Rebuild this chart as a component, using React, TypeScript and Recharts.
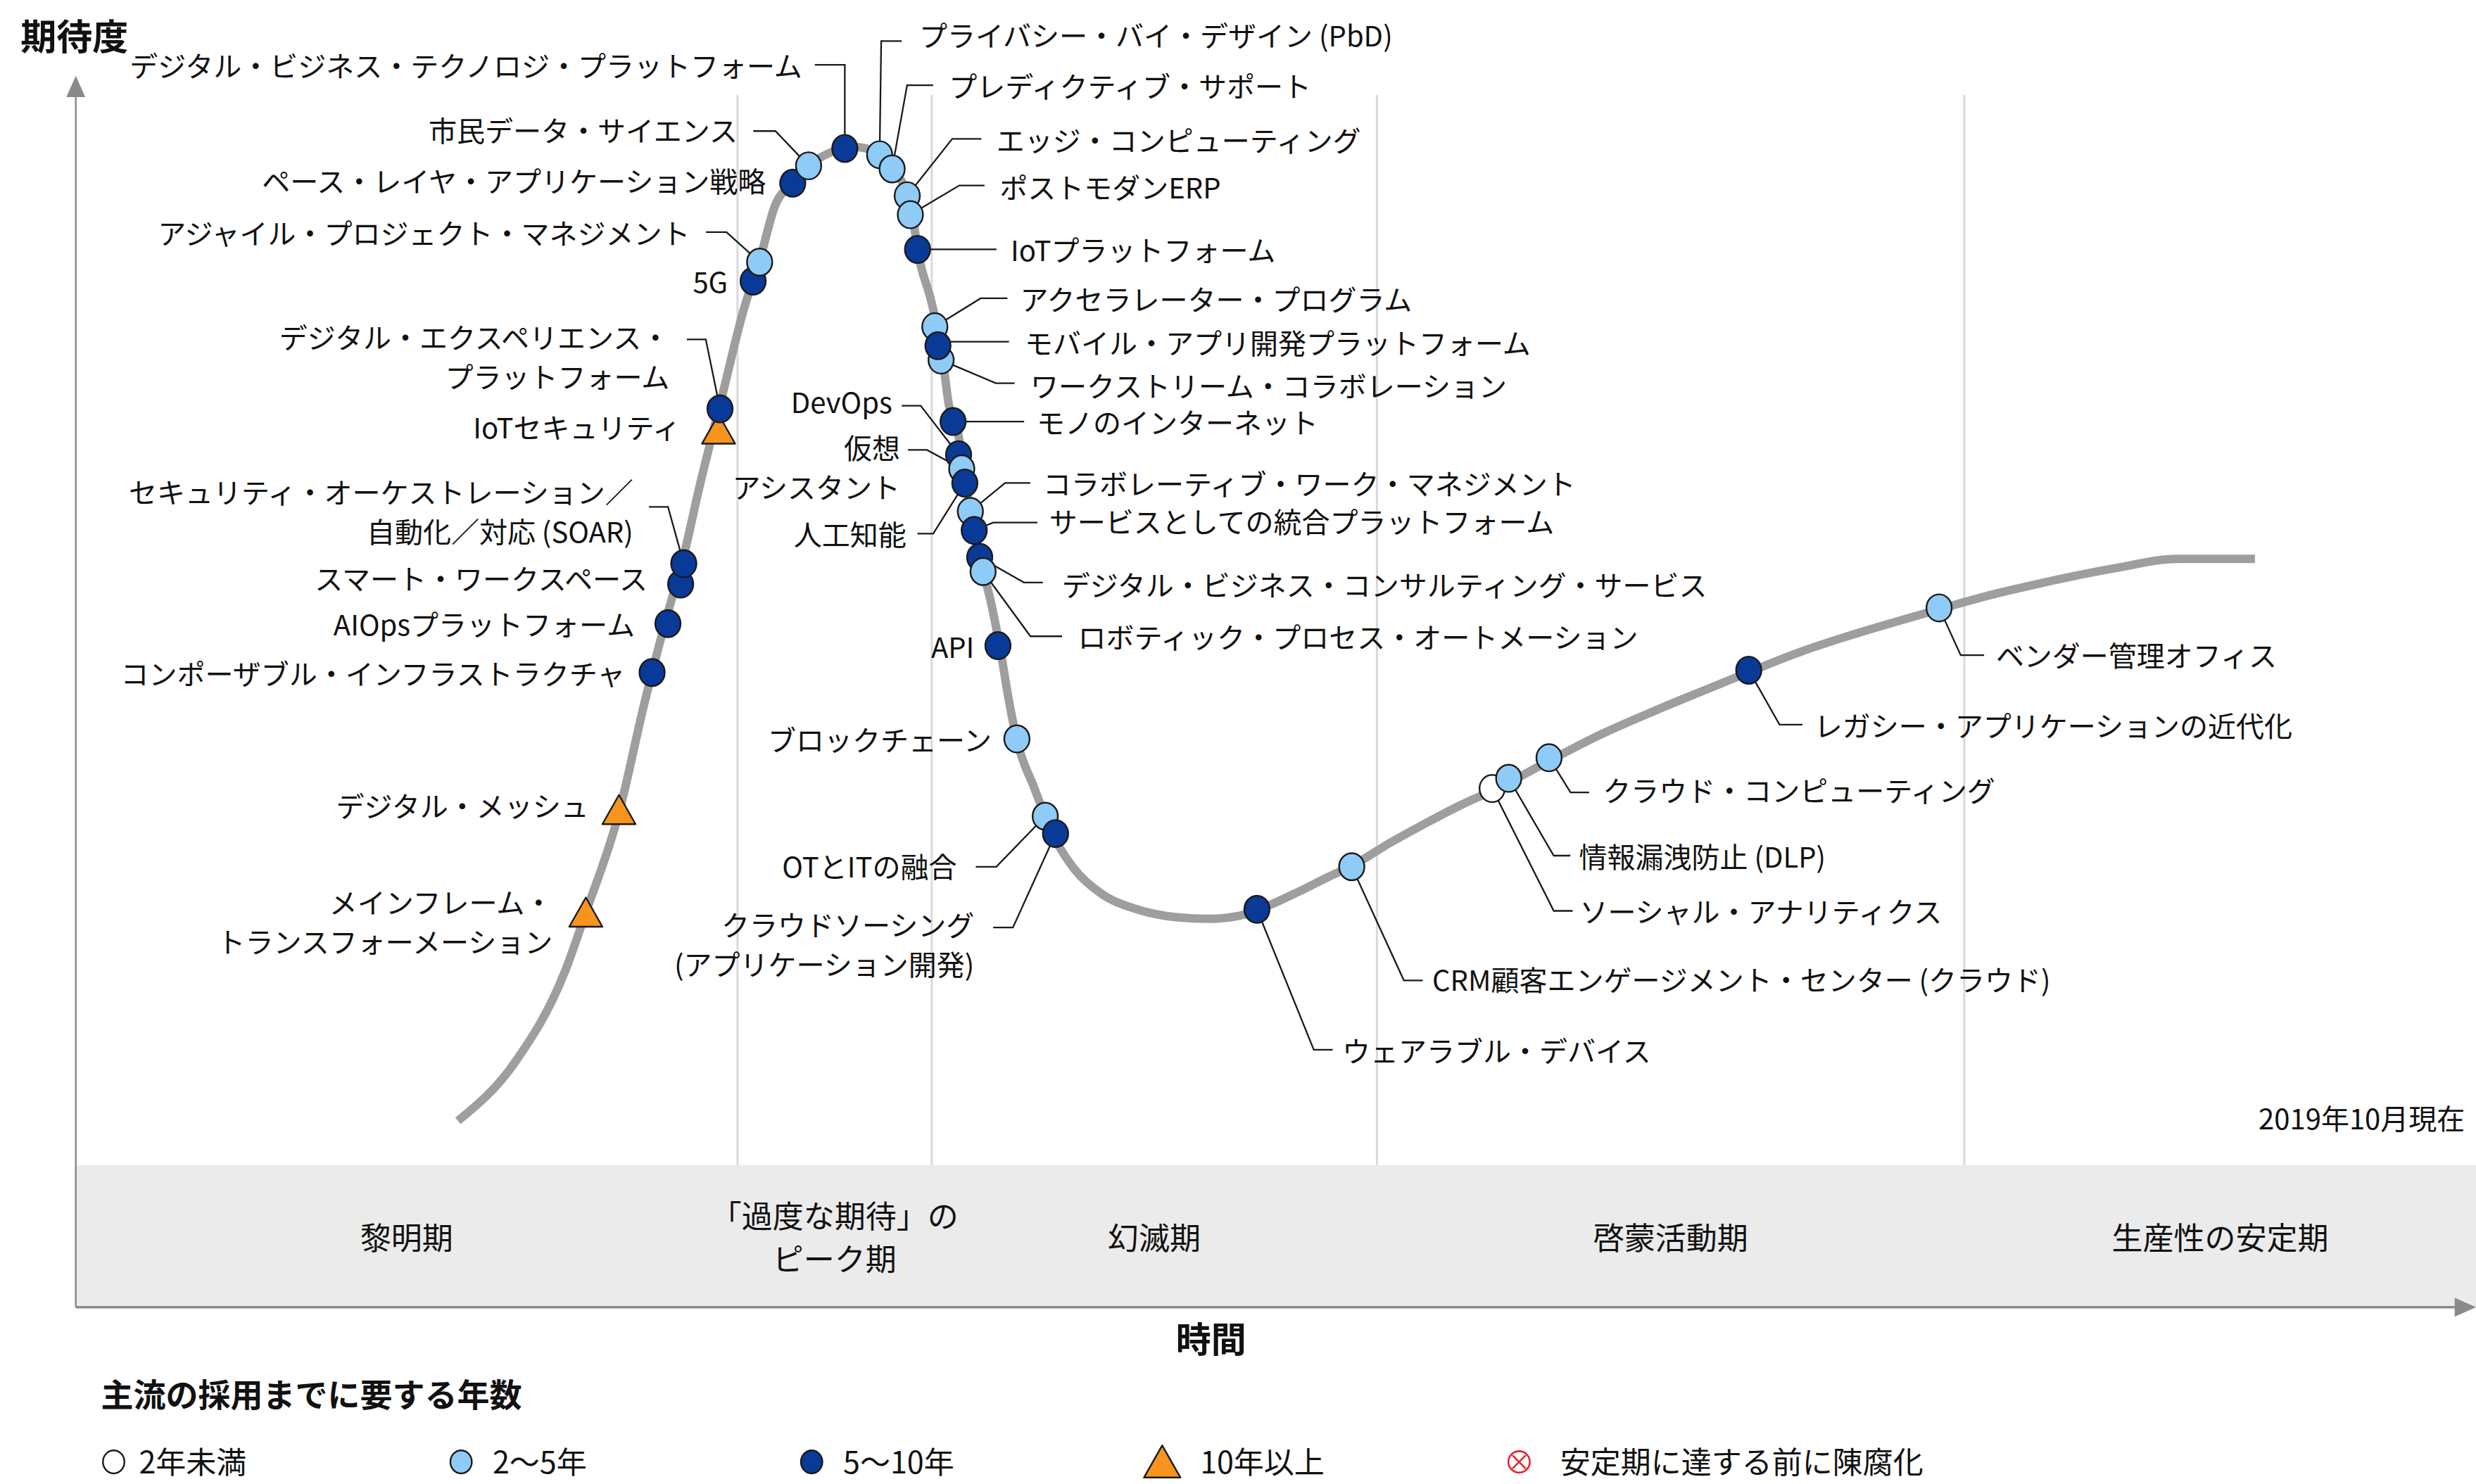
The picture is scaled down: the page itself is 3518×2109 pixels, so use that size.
import React from 'react';
import { ComposedChart, Line, Scatter, XAxis, YAxis, ReferenceArea, ReferenceLine } from 'recharts';

const W = 3518;
const H = 2109;
// the reference was laid out at 1568px wide, layout offsets below use that unit
const K = W / 1568;
const FONT = '"Noto Sans CJK JP", "Noto Sans", sans-serif';

// hype curve: time (0-100) against expectation (0-100)
const curveTime = [
  15.92, 18.29, 20.39, 21.25, 22.63, 23.68, 24.54, 25.33, 25.99, 26.91, 27.83, 28.49, 29.14,
  29.87, 30.53, 31.38, 32.37, 33.49, 34.01, 34.61, 34.87, 35.07, 35.66, 35.92, 36.12, 36.38,
  36.78, 36.97, 37.17, 37.43, 37.63, 38.09, 38.49, 38.88, 39.21, 39.93, 40.39, 40.86, 41.58,
  42.63, 44.21, 45.86, 47.24, 48.49, 49.47, 50.92, 52.11, 53.22, 54.74, 56.05, 57.7, 59.28,
  61.38, 63.29, 65.66, 67.89, 69.67, 71.84, 73.82, 75.79, 77.63, 79.74, 81.71, 84.93, 87.57, 90.79,
];
const curveExpectation = [
  15.13, 19.87, 27.31, 32.05, 40.13, 48.97, 55.51, 61.03, 66.67, 73.85, 81.03, 85.0, 89.49,
  91.28, 92.69, 93.72, 94.23, 93.72, 92.44, 90.51, 88.59, 85.9, 81.54, 79.23, 76.92, 73.21,
  70.77, 68.21, 65.77, 63.08, 61.03, 57.56, 53.72, 49.23, 46.03, 42.18, 39.87, 37.82, 35.64,
  33.72, 32.31, 31.67, 31.54, 31.79, 32.44, 33.72, 34.87, 35.9, 37.69, 39.1, 40.77, 42.18,
  44.36, 46.28, 48.33, 50.13, 51.54, 53.21, 54.49, 55.64, 56.67, 57.82, 58.72, 60.0, 60.77, 60.77,
];

// phases along the time axis
const phaseNames = [['黎明期'], ['「過度な期待」の', 'ピーク期'], ['幻滅期'], ['啓蒙活動期'], ['生産性の安定期']];
const phaseBounds = [0, 27.57, 35.66, 54.21, 78.68, 100];
const BAND_TOP = 11.54;
const DIVIDER_TOP = 98.46;

// years to mainstream adoption
const yearClasses = ['lt2', '2to5', '5to10', 'gt10', 'obsolete'];
const yearLabels = ['2年未満', '2～5年', '5～10年', '10年以上', '安定期に達する前に陳腐化'];

const techs = [
  // innovation trigger, drawn bottom-up
  { name: 'メインフレーム・トランスフォーメーション', t: 21.25, e: 32.05, years: 'gt10' },
  { name: 'デジタル・メッシュ', t: 22.63, e: 40.38, years: 'gt10' },
  { name: 'コンポーザブル・インフラストラクチャ', t: 24.01, e: 51.54, years: '5to10' },
  { name: 'AIOpsプラットフォーム', t: 24.67, e: 55.51, years: '5to10' },
  { name: 'スマート・ワークスペース', t: 25.2, e: 58.72, years: '5to10' },
  { name: 'SOAR', t: 25.33, e: 60.38, years: '5to10' },
  { name: 'IoTセキュリティ', t: 26.78, e: 71.28, years: 'gt10' },
  { name: 'デジタル・エクスペリエンス・プラットフォーム', t: 26.84, e: 72.95, years: '5to10' },
  { name: '5G', t: 28.22, e: 83.33, years: '5to10' },
  { name: 'アジャイル・プロジェクト・マネジメント', t: 28.49, e: 84.87, years: '2to5' },
  { name: 'ペース・レイヤ・アプリケーション戦略', t: 29.87, e: 91.28, years: '5to10' },
  { name: '市民データ・サイエンス', t: 30.53, e: 92.69, years: '2to5' },
  { name: 'デジタル・ビジネス・テクノロジ・プラットフォーム', t: 32.04, e: 94.1, years: '5to10' },
  // sliding down, drawn top-down
  { name: 'プライバシー・バイ・デザイン (PbD)', t: 33.49, e: 93.59, years: '2to5' },
  { name: 'プレディクティブ・サポート', t: 34.01, e: 92.44, years: '2to5' },
  { name: 'エッジ・コンピューティング', t: 34.64, e: 90.26, years: '2to5' },
  { name: 'ポストモダンERP', t: 34.77, e: 88.72, years: '2to5' },
  { name: 'IoTプラットフォーム', t: 35.07, e: 85.9, years: '5to10' },
  { name: 'アクセラレーター・プログラム', t: 35.79, e: 79.62, years: '2to5' },
  { name: 'ワークストリーム・コラボレーション', t: 36.05, e: 76.92, years: '2to5' },
  { name: 'モバイル・アプリ開発プラットフォーム', t: 35.92, e: 78.08, years: '5to10' },
  { name: 'モノのインターネット', t: 36.55, e: 71.92, years: '5to10' },
  { name: 'DevOps', t: 36.78, e: 69.23, years: '5to10' },
  { name: '仮想アシスタント', t: 36.91, e: 68.08, years: '2to5' },
  { name: '人工知能', t: 37.04, e: 66.92, years: '5to10' },
  { name: 'コラボレーティブ・ワーク・マネジメント', t: 37.27, e: 64.62, years: '2to5' },
  { name: 'サービスとしての統合プラットフォーム', t: 37.43, e: 63.08, years: '5to10' },
  { name: 'デジタル・ビジネス・コンサルティング・サービス', t: 37.66, e: 60.9, years: '5to10' },
  { name: 'ロボティック・プロセス・オートメーション', t: 37.8, e: 59.74, years: '2to5' },
  { name: 'API', t: 38.42, e: 53.72, years: '5to10' },
  { name: 'ブロックチェーン', t: 39.21, e: 46.15, years: '2to5' },
  { name: 'OTとITの融合', t: 40.39, e: 39.87, years: '2to5' },
  { name: 'クラウドソーシング (アプリケーション開発)', t: 40.82, e: 38.46, years: '5to10' },
  // slope of enlightenment
  { name: 'ウェアラブル・デバイス', t: 49.21, e: 32.31, years: '5to10' },
  { name: 'CRM顧客エンゲージメント・センター (クラウド)', t: 53.16, e: 35.77, years: '2to5' },
  { name: 'ソーシャル・アナリティクス', t: 59.01, e: 42.12, years: 'lt2' },
  { name: '情報漏洩防止 (DLP)', t: 59.7, e: 42.95, years: '2to5' },
  { name: 'クラウド・コンピューティング', t: 61.38, e: 44.62, years: '2to5' },
  { name: 'レガシー・アプリケーションの近代化', t: 69.7, e: 51.73, years: '5to10' },
  { name: 'ベンダー管理オフィス', t: 77.63, e: 56.79, years: '2to5' },
];

// label placement relative to the marker (reference px): text offset, anchor, leader polyline
const labelLayout: Record<string, any> = {
  'デジタル・ビジネス・テクノロジ・プラットフォーム': { dx: -27, dy: -53, a: 'end', leader: [[0, 0], [0, -53], [-19, -53]] },
  '市民データ・サイエンス': { dx: -45, dy: -23, a: 'end', leader: [[0, 0], [-21, -22], [-35, -22]] },
  'ペース・レイヤ・アプリケーション戦略': { dx: -17, dy: -2, a: 'end' },
  'アジャイル・プロジェクト・マネジメント': { dx: -44, dy: -19, a: 'end', leader: [[0, 0], [-21, -19], [-34, -19]] },
  '5G': { dx: -16, dy: 0, a: 'end' },
  'デジタル・エクスペリエンス・プラットフォーム': {
    dx: -32, dy: -46, a: 'end', lines: ['デジタル・エクスペリエンス・', 'プラットフォーム'],
    leader: [[0, 0], [-9, -44], [-21, -44]],
  },
  'IoTセキュリティ': { dx: -24, dy: -2, a: 'end' },
  'SOAR': {
    dx: -32, dy: -46, a: 'end', lines: ['セキュリティ・オーケストレーション／', '自動化／対応 (SOAR)'],
    leader: [[0, 0], [-10, -36], [-22, -36]],
  },
  'スマート・ワークスペース': { dx: -21, dy: -4, a: 'end' },
  'AIOpsプラットフォーム': { dx: -21, dy: 0, a: 'end' },
  'コンポーザブル・インフラストラクチャ': { dx: -17, dy: 0, a: 'end' },
  'デジタル・メッシュ': { dx: -19, dy: -3, a: 'end' },
  'メインフレーム・トランスフォーメーション': { dx: -21, dy: -7, a: 'end', lines: ['メインフレーム・', 'トランスフォーメーション'] },
  'プライバシー・バイ・デザイン (PbD)': { dx: 25, dy: -76, a: 'start', leader: [[0, 0], [1, -72], [14, -72]] },
  'プレディクティブ・サポート': { dx: 36, dy: -53, a: 'start', leader: [[0, 0], [9.5, -53], [26, -53]] },
  'エッジ・コンピューティング': { dx: 56.5, dy: -35.5, a: 'start', leader: [[0, 0], [28.5, -36], [47, -36]] },
  'ポストモダンERP': { dx: 56.5, dy: -18, a: 'start', leader: [[0, 0], [31, -18.5], [47, -18.5]] },
  'IoTプラットフォーム': { dx: 59, dy: 0, a: 'start', leader: [[0, 0], [50, 0]] },
  'アクセラレーター・プログラム': { dx: 54, dy: -18, a: 'start', leader: [[0, 0], [29, -18], [46, -18]] },
  'モバイル・アプリ開発プラットフォーム': { dx: 55, dy: -2.5, a: 'start', leader: [[0, -2.5], [45, -2.5]] },
  'ワークストリーム・コラボレーション': { dx: 56.6, dy: 16, a: 'start', leader: [[0, 0], [34.7, 14.7], [46.6, 14.7]] },
  'モノのインターネット': { dx: 53, dy: 0, a: 'start', leader: [[0, 0], [45, 0]] },
  'DevOps': { dx: -42, dy: -34, a: 'end', leader: [[0, 0], [-24, -31], [-36, -31]] },
  '仮想アシスタント': { dx: -39, dy: -14, a: 'end', lines: ['仮想', 'アシスタント'], leader: [[0, 0], [-22, -12], [-34, -12]] },
  '人工知能': { dx: -37, dy: 32, a: 'end', leader: [[0, 0], [-20, 32], [-30, 32]] },
  'コラボレーティブ・ワーク・マネジメント': { dx: 46, dy: -18, a: 'start', leader: [[0, 0], [22, -18], [38, -18]] },
  'サービスとしての統合プラットフォーム': { dx: 47.5, dy: -6, a: 'start', leader: [[0, 0], [12, -5], [40, -5]] },
  'デジタル・ビジネス・コンサルティング・サービス': { dx: 52, dy: 17, a: 'start', leader: [[0, 0], [28, 16], [40, 16]] },
  'ロボティック・プロセス・オートメーション': { dx: 60, dy: 41, a: 'start', leader: [[0, 0], [30, 41], [50, 41]] },
  'API': { dx: -15, dy: 0, a: 'end' },
  'ブロックチェーン': { dx: -16, dy: 0, a: 'end' },
  'OTとITの融合': { dx: -56, dy: 31, a: 'end', leader: [[0, 0], [-31, 32], [-44, 32]] },
  'クラウドソーシング (アプリケーション開発)': {
    dx: -51.5, dy: 57, a: 'end', lines: ['クラウドソーシング', '(アプリケーション開発)'],
    leader: [[0, 0], [-27, 59.5], [-39.5, 59.5]],
  },
  'ウェアラブル・デバイス': { dx: 54, dy: 89, a: 'start', leader: [[0, 0], [36, 89], [48, 89]] },
  'CRM顧客エンゲージメント・センター (クラウド)': { dx: 51, dy: 71, a: 'start', leader: [[0, 0], [33, 72], [45, 72]] },
  'ソーシャル・アナリティクス': { dx: 55.4, dy: 77.5, a: 'start', leader: [[0, 0], [39, 77.5], [51, 77.5]] },
  '情報漏洩防止 (DLP)': { dx: 44.5, dy: 49, a: 'start', leader: [[0, 0], [28.5, 49], [39, 49]] },
  'クラウド・コンピューティング': { dx: 34, dy: 20, a: 'start', leader: [[0, 0], [13.6, 22], [25.4, 22]] },
  'レガシー・アプリケーションの近代化': { dx: 41.5, dy: 34.5, a: 'start', leader: [[0, 0], [19.5, 34.5], [34, 34.5]] },
  'ベンダー管理オフィス': { dx: 36, dy: 29.5, a: 'start', leader: [[0, 0], [13.7, 30], [28.5, 30]] },
};

const legendMarkerX = [72, 292, 514, 736, 962];
const legendTextX = [88, 312, 534, 760, 988];

const FILL: Record<string, string> = {
  lt2: '#ffffff',
  '2to5': '#8ecbf6',
  '5to10': '#0a3a97',
  gt10: '#f7941d',
};

const curve = curveTime.map((t, i) => ({ t, e: curveExpectation[i] }));
const phaseCenters = phaseNames.map((lines, i) => ({
  t: (phaseBounds[i] + phaseBounds[i + 1]) / 2,
  e: BAND_TOP / 2,
  lines,
}));

function Glyph({ x, y, years, s = 1 }: { x: number; y: number; years: string; s?: number }) {
  if (years === 'gt10') {
    const hw = 10.5 * K * s;
    return (
      <polygon
        points={`${x},${y - 9.5 * K * s} ${x + hw},${y + 9 * K * s} ${x - hw},${y + 9 * K * s}`}
        fill={FILL.gt10}
        stroke="#1a1a1a"
        strokeWidth={2.4}
        strokeLinejoin="round"
      />
    );
  }
  if (years === 'obsolete') {
    const r = 8 * K * s;
    const d = r * 0.62;
    return (
      <g stroke="#e5262d" strokeWidth={2.6} fill="none">
        <circle cx={x} cy={y} r={r} />
        <line x1={x - d} y1={y - d} x2={x + d} y2={y + d} />
        <line x1={x - d} y1={y + d} x2={x + d} y2={y - d} />
      </g>
    );
  }
  return (
    <ellipse cx={x} cy={y} rx={8 * K * s} ry={8.6 * K * s} fill={FILL[years]} stroke="#1a1a1a" strokeWidth={2.4} />
  );
}

const MarkerShape = (props: any) => {
  const { cx, cy, payload } = props;
  if (cx == null || cy == null) return <g />;
  return <Glyph x={cx} y={cy} years={payload.years} />;
};

const LabelShape = (props: any) => {
  const { cx, cy, payload } = props;
  const lay = labelLayout[payload.name];
  if (!lay || cx == null) return <g />;
  const lines: string[] = lay.lines || [payload.name];
  const pts = (lay.leader || []).map(([dx, dy]: number[]) => `${cx + dx * K},${cy + dy * K}`).join(' ');
  return (
    <g>
      {pts && <polyline points={pts} fill="none" stroke="#1a1a1a" strokeWidth={2.3} />}
      {lines.map((s, i) => (
        <text
          key={i}
          x={cx + lay.dx * K}
          y={cy + (lay.dy + i * 25) * K}
          textAnchor={lay.a}
          dominantBaseline="central"
          fontSize={40}
          fontFamily={FONT}
          fill="#111"
        >
          {s}
        </text>
      ))}
    </g>
  );
};

const PhaseShape = (props: any) => {
  const { cx, cy, payload } = props;
  const lines: string[] = payload.lines;
  const off = lines.length > 1 ? -13.5 : 0;
  return (
    <g>
      {lines.map((s, i) => (
        <text
          key={i}
          x={cx}
          y={cy + (off + i * 27) * K}
          textAnchor="middle"
          dominantBaseline="central"
          fontSize={44}
          fontFamily={FONT}
          fill="#111"
        >
          {s}
        </text>
      ))}
    </g>
  );
};

const ArrowLine = (props: any) => {
  const { x1, y1, x2, y2 } = props;
  const ang = Math.atan2(y2 - y1, x2 - x1);
  const len = 13.5 * K;
  const hw = 6 * K;
  const bx = x2 - Math.cos(ang) * len;
  const by = y2 - Math.sin(ang) * len;
  const px = -Math.sin(ang) * hw;
  const py = Math.cos(ang) * hw;
  return (
    <g>
      <line x1={x1} y1={y1} x2={bx} y2={by} stroke="#8a8a8a" strokeWidth={props.w || 2.5} />
      <polygon points={`${x2},${y2} ${bx + px},${by + py} ${bx - px},${by - py}`} fill="#8a8a8a" />
    </g>
  );
};

export default function App() {
  return (
    <div style={{ position: 'absolute', left: 0, top: 0, width: W, height: H, background: '#fff' }}>
      <ComposedChart
        width={W}
        height={H}
        margin={{ top: 48 * K, right: 0, bottom: H - 828 * K, left: 48 * K }}
      >
        <XAxis type="number" dataKey="t" domain={[0, 100]} hide />
        <YAxis type="number" dataKey="e" domain={[0, 100]} hide />
        <ReferenceArea x1={0} x2={100} y1={0} y2={BAND_TOP} fill="#ebebeb" fillOpacity={1} stroke="none" />
        {phaseBounds.slice(1, -1).map((b) => (
          <ReferenceLine
            key={b}
            segment={[{ x: b, y: BAND_TOP }, { x: b, y: DIVIDER_TOP }]}
            stroke="#d9d9d9"
            strokeWidth={3}
          />
        ))}
        <ReferenceLine
          segment={[{ x: 0, y: 0 }, { x: 100, y: 0 }]}
          ifOverflow="visible"
          shape={(p: any) => <ArrowLine {...p} w={3.5} />}
        />
        <ReferenceLine
          segment={[{ x: 0, y: 0 }, { x: 0, y: 100 }]}
          ifOverflow="visible"
          shape={(p: any) => <ArrowLine {...p} />}
        />
        <Line
          data={curve}
          dataKey="e"
          type="monotone"
          stroke="#9e9e9e"
          strokeWidth={12}
          strokeLinecap="butt"
          dot={false}
          activeDot={false}
          isAnimationActive={false}
        />
        <Scatter data={phaseCenters} shape={PhaseShape} isAnimationActive={false} />
        <Scatter data={techs} shape={LabelShape} isAnimationActive={false} />
        <Scatter data={techs} shape={MarkerShape} isAnimationActive={false} />
      </ComposedChart>

      <svg
        width={W}
        height={H}
        style={{ position: 'absolute', left: 0, top: 0, pointerEvents: 'none' }}
        fontFamily={FONT}
      >
        <text x={13 * K} y={22 * K} fontSize={51} fontWeight="bold" dominantBaseline="central" fill="#111">
          期待度
        </text>
        <text x={767 * K} y={847 * K} fontSize={50} fontWeight="bold" textAnchor="middle" dominantBaseline="central" fill="#111">
          時間
        </text>
        <text x={1561 * K} y={708 * K} fontSize={40} textAnchor="end" dominantBaseline="central" fill="#111">
          2019年10月現在
        </text>
        <text x={64 * K} y={882 * K} fontSize={46} fontWeight="bold" dominantBaseline="central" fill="#111">
          主流の採用までに要する年数
        </text>
        {yearClasses.map((c, i) => (
          <g key={c}>
            <Glyph x={legendMarkerX[i] * K} y={926 * K} years={c} s={c === 'gt10' ? 1.1 : 0.85} />
            <text x={legendTextX[i] * K} y={925 * K} fontSize={43} dominantBaseline="central" fill="#111">
              {yearLabels[i]}
            </text>
          </g>
        ))}
      </svg>
    </div>
  );
}
